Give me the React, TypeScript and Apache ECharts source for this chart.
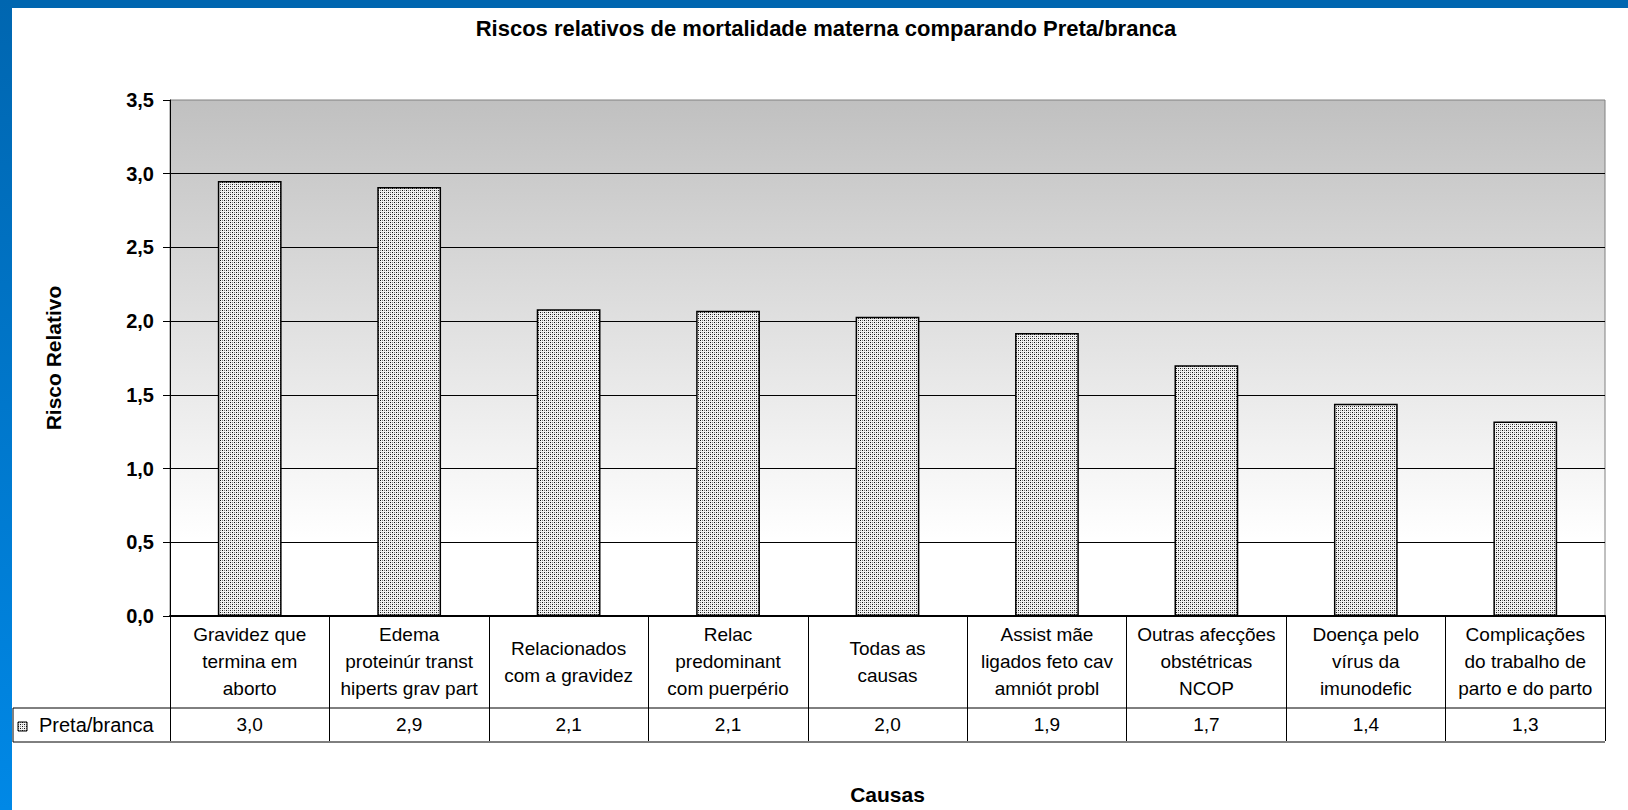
import React, { useEffect, useRef } from "react";
import * as echarts from "echarts";

// Causes of maternal death (category labels, wrapped as in the table)
const causes = [
  "Gravidez que\ntermina em\naborto",
  "Edema\nproteinúr transt\nhiperts grav part",
  "Relacionados\ncom a gravidez",
  "Relac\npredominant\ncom puerpério",
  "Todas as\ncausas",
  "Assist mãe\nligados feto cav\namniót probl",
  "Outras afecções\nobstétricas\nNCOP",
  "Doença pelo\nvírus da\nimunodefic",
  "Complicações\ndo trabalho de\nparto e do parto",
];

const seriesName = "Preta/branca";
const relativeRisk = [2.95, 2.91, 2.08, 2.07, 2.03, 1.92, 1.7, 1.44, 1.32];

const yMin = 0;
const yMax = 3.5;
const yStep = 0.5;

const titleText = "Riscos relativos de mortalidade materna comparando Preta/branca";
const yAxisTitle = "Risco Relativo";
const xAxisTitle = "Causas";

// Layout
const W = 1628;
const H = 810;
const GRID = { left: 170, top: 100, right: 23, bottom: 193 };
const CAT_ROW_H = 91;
const VAL_ROW_H = 34;
const TABLE_LEFT = 13;
const FONT = "'Liberation Sans', Arial, Helvetica, sans-serif";

const fmt = (v: number) =>
  (Math.round(v * 10 + 1e-9) / 10).toFixed(1).replace(".", ",");

// Small stipple tile used as the bar fill
function makeStipple(): HTMLCanvasElement {
  const c = document.createElement("canvas");
  c.width = 4;
  c.height = 4;
  const g = c.getContext("2d")!;
  g.fillStyle = "#f2f2f2";
  g.fillRect(0, 0, 4, 4);
  g.fillStyle = "#111111";
  g.fillRect(0, 0, 1, 1);
  g.fillRect(2, 2, 1, 1);
  g.fillStyle = "#808080";
  g.fillRect(2, 0, 1, 1);
  g.fillRect(0, 2, 1, 1);
  return c;
}

export default function App() {
  const ref = useRef<HTMLDivElement>(null);

  useEffect(() => {
    if (!ref.current) return;
    const chart = echarts.init(ref.current, undefined, { renderer: "svg" });
    const stipple = makeStipple();
    const barFill: any = { image: stipple, repeat: "repeat", imageWidth: 4, imageHeight: 4 };

    const axisY = H - GRID.bottom;
    const rowSepY = axisY + CAT_ROW_H;
    const tableBottom = rowSepY + VAL_ROW_H;
    const plotRight = W - GRID.right;

    const option: any = {
      animation: false,
      backgroundColor: "#ffffff",
      textStyle: { fontFamily: FONT },
      title: {
        text: titleText,
        left: 826,
        top: 17,
        padding: 0,
        textAlign: "center",
        textStyle: { fontSize: 22, fontWeight: "bold", color: "#000", fontFamily: FONT },
      },
      grid: {
        ...GRID,
        show: true,
        borderColor: "#808080",
        borderWidth: 1,
        backgroundColor: new echarts.graphic.LinearGradient(0, 0, 0, 1, [
          { offset: 0, color: "#c0c0c0" },
          { offset: 0.85, color: "#ffffff" },
          { offset: 1, color: "#ffffff" },
        ]),
      },
      xAxis: [
        {
          type: "category",
          data: causes,
          boundaryGap: true,
          name: xAxisTitle,
          nameLocation: "middle",
          nameGap: 168,
          nameTextStyle: { fontSize: 21, fontWeight: "bold", color: "#000", fontFamily: FONT },
          axisLine: { show: true, lineStyle: { color: "#000", width: 2 } },
          axisTick: {
            show: true,
            interval: 0,
            alignWithLabel: false,
            inside: false,
            length: CAT_ROW_H + VAL_ROW_H,
            lineStyle: { color: "#000", width: 1 },
          },
          axisLabel: {
            interval: 0,
            margin: CAT_ROW_H / 2,
            verticalAlign: "middle",
            lineHeight: 27,
            fontSize: 19,
            color: "#000",
            fontFamily: FONT,
          },
          splitLine: { show: false },
        },
        {
          type: "category",
          data: relativeRisk.map(fmt),
          position: "bottom",
          offset: CAT_ROW_H,
          boundaryGap: true,
          axisLine: { show: false },
          axisTick: { show: false },
          axisLabel: {
            interval: 0,
            margin: VAL_ROW_H / 2,
            verticalAlign: "middle",
            fontSize: 19,
            color: "#000",
            fontFamily: FONT,
          },
          splitLine: { show: false },
        },
      ],
      yAxis: {
        type: "value",
        min: yMin,
        max: yMax,
        interval: yStep,
        name: yAxisTitle,
        nameLocation: "middle",
        nameGap: 106,
        nameRotate: 90,
        nameTextStyle: { fontSize: 21, fontWeight: "bold", color: "#000", fontFamily: FONT },
        axisLine: { show: true, lineStyle: { color: "#000", width: 1 } },
        axisTick: { show: true, inside: false, length: 7, lineStyle: { color: "#000" } },
        axisLabel: {
          margin: 16,
          fontSize: 20,
          fontWeight: "bold",
          color: "#000",
          fontFamily: FONT,
          formatter: (v: number) => fmt(v),
        },
        splitLine: { show: true, showMaxLine: false, lineStyle: { color: "#000", width: 1 } },
      },
      series: [
        {
          name: seriesName,
          type: "bar",
          xAxisIndex: 0,
          data: relativeRisk,
          barWidth: "40%",
          itemStyle: { color: barFill, borderColor: "#000", borderWidth: 1.5 },
        },
      ],
      graphic: [
        // blue frame strips
        {
          type: "rect",
          shape: { x: 0, y: 0, width: W, height: 8 },
          style: { fill: "#0066b0" },
          silent: true,
        },
        {
          type: "rect",
          shape: { x: 0, y: 0, width: 12, height: H },
          style: {
            fill: new echarts.graphic.LinearGradient(0, 0, 0, 1, [
              { offset: 0, color: "#0066b0" },
              { offset: 1, color: "#0088e6" },
            ]),
          },
          silent: true,
        },
        // data table frame (row separator, outer box of the legend row)
        {
          type: "polyline",
          shape: {
            points: [
              [plotRight, rowSepY],
              [TABLE_LEFT, rowSepY],
              [TABLE_LEFT, tableBottom],
              [plotRight, tableBottom],
            ],
          },
          style: { stroke: "#000", lineWidth: 1, fill: null },
          silent: true,
        },
        // legend key for the series row
        {
          type: "rect",
          shape: { x: 18, y: 722, width: 9, height: 9 },
          style: { fill: barFill, stroke: "#000", lineWidth: 1 },
          silent: true,
        },
        {
          type: "text",
          x: 39,
          y: (rowSepY + tableBottom) / 2,
          style: {
            text: seriesName,
            fontSize: 20,
            fontFamily: FONT,
            fill: "#000",
            verticalAlign: "middle",
            align: "left",
          },
          silent: true,
        },
      ],
    };

    chart.setOption(option);
    return () => chart.dispose();
  }, []);

  return (
    <div
      ref={ref}
      style={{ position: "absolute", left: 0, top: 0, width: W, height: H, background: "#fff" }}
    />
  );
}
